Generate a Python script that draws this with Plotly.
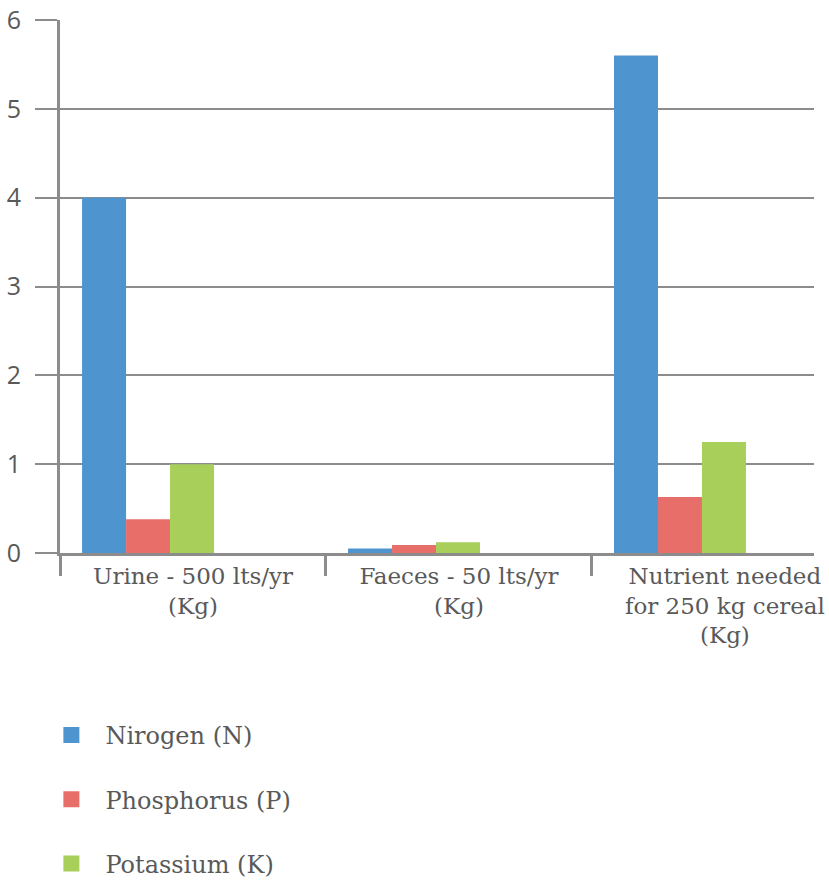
import plotly.graph_objects as go

categories = [
    "Urine - 500 lts/yr<br>(Kg)",
    "Faeces - 50 lts/yr<br>(Kg)",
    "Nutrient needed<br>for 250 kg cereal<br>(Kg)",
]
series_names = ["Nirogen (N)", "Phosphorus (P)", "Potassium (K)"]
nitrogen = [4.0, 0.05, 5.6]
phosphorus = [0.38, 0.09, 0.63]
potassium = [1.0, 0.12, 1.25]
y_ticks = [0, 1, 2, 3, 4, 5, 6]

colors = ["#4e95d0", "#e86f69", "#a8cf5a"]
values = [nitrogen, phosphorus, potassium]
bar_w = 0.1654
offsets = [-0.417, -0.2516, -0.0862]
GRID = "#8c8c8c"
TXT = "#595959"
serif = "DejaVu Serif"

fig = go.Figure()
for name, vals, col, off in zip(series_names, values, colors, offsets):
    fig.add_trace(go.Bar(
        x=categories, y=vals, name=name, marker=dict(color=col, line=dict(width=0)),
        width=bar_w, offset=off, showlegend=False,
    ))
for i, (name, col) in enumerate(zip(series_names, colors)):
    fig.add_trace(go.Scatter(
        x=[None], y=[None], mode="markers", name=name, legendgroup=f"g{i}",
        marker=dict(symbol="square", size=20, color=col),
    ))

fig.update_layout(
    width=829, height=882,
    margin=dict(l=60, r=15, t=20, b=329, autoexpand=False),
    plot_bgcolor="white", paper_bgcolor="white",
    barmode="overlay",
    showlegend=True,
    legend=dict(
        orientation="v", x=-0.03, xanchor="left", y=-0.30, yanchor="top",
        font=dict(family=serif, size=24, color=TXT),
        tracegroupgap=30, itemsizing="trace", itemwidth=58,
    ),
    xaxis=dict(
        type="category", range=[-0.5, 2.335], automargin=False,
        showline=True, linecolor=GRID, linewidth=3,
        ticks="outside", tickson="boundaries", ticklen=20, tickwidth=3, tickcolor=GRID,
        showgrid=False,
        tickfont=dict(family=serif, size=23, color=TXT),
    ),
    yaxis=dict(
        range=[0, 6], tickvals=y_ticks, automargin=False,
        showline=True, linecolor=GRID, linewidth=3,
        showgrid=True, gridcolor=GRID, gridwidth=2, zeroline=False,
        ticks="outside", ticklen=22, tickwidth=2, tickcolor=GRID,
        ticklabelstandoff=9,
        tickfont=dict(family="Open Sans", size=25, color=TXT),
    ),
)

fig.write_html(
    "out.html",
    config={"displayModeBar": False},
    post_script="document.body.style.margin='0';document.body.style.overflow='hidden';",
)
